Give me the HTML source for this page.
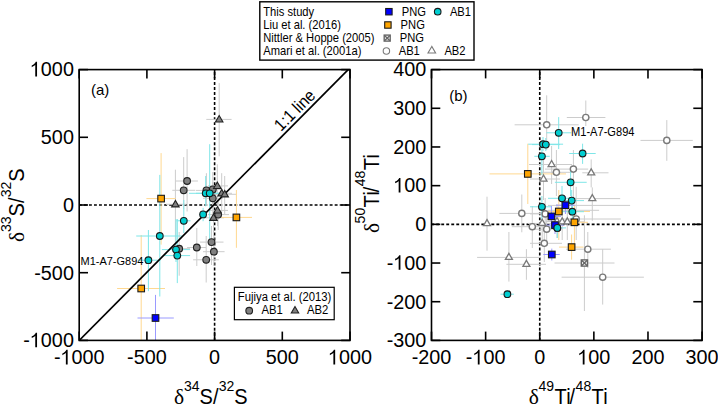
<!DOCTYPE html><html><head><meta charset="utf-8"><style>html,body{margin:0;padding:0;background:#fff;overflow:hidden;width:718px;height:404px;}svg{display:block;}</style></head><body><svg width="718" height="404" viewBox="0 0 718 404" font-family='"Liberation Sans", sans-serif'><rect width="718" height="404" fill="#fff"/><defs><clipPath id="ca"><rect x="79.2" y="69.6" width="270.8" height="270.79999999999995"/></clipPath><clipPath id="cb"><rect x="431.5" y="69.6" width="270.6" height="270.79999999999995"/></clipPath></defs><g clip-path="url(#ca)"><line x1="214.60" y1="69.6" x2="214.60" y2="340.4" stroke="#000" stroke-width="1.6" stroke-dasharray="2.9,2.115" stroke-dashoffset="2.6"/><line x1="79.2" y1="205.00" x2="350.0" y2="205.00" stroke="#000" stroke-width="1.6" stroke-dasharray="2.9,2.115" stroke-dashoffset="0.28"/><line x1="206.3" y1="119.4" x2="231.6" y2="119.4" stroke="#CCCCCC" stroke-width="1.0"/><line x1="219.2" y1="83.1" x2="219.2" y2="156.3" stroke="#CCCCCC" stroke-width="1.0"/><line x1="166.0" y1="204.3" x2="186.0" y2="204.3" stroke="#CCCCCC" stroke-width="1.0"/><line x1="175.4" y1="169.7" x2="175.4" y2="250.0" stroke="#CCCCCC" stroke-width="1.0"/><line x1="208.0" y1="185.9" x2="228.0" y2="185.9" stroke="#CCCCCC" stroke-width="1.0"/><line x1="217.3" y1="164.3" x2="217.3" y2="205.0" stroke="#CCCCCC" stroke-width="1.0"/><line x1="212.0" y1="193.3" x2="232.0" y2="193.3" stroke="#CCCCCC" stroke-width="1.0"/><line x1="221.7" y1="173.2" x2="221.7" y2="212.0" stroke="#CCCCCC" stroke-width="1.0"/><line x1="214.0" y1="194.3" x2="236.0" y2="194.3" stroke="#CCCCCC" stroke-width="1.0"/><line x1="224.7" y1="176.0" x2="224.7" y2="214.0" stroke="#CCCCCC" stroke-width="1.0"/><line x1="208.0" y1="210.4" x2="228.0" y2="210.4" stroke="#CCCCCC" stroke-width="1.0"/><line x1="217.5" y1="196.0" x2="217.5" y2="226.0" stroke="#CCCCCC" stroke-width="1.0"/><line x1="204.0" y1="217.8" x2="224.0" y2="217.8" stroke="#CCCCCC" stroke-width="1.0"/><line x1="213.5" y1="202.0" x2="213.5" y2="236.0" stroke="#CCCCCC" stroke-width="1.0"/><line x1="175.9" y1="181.0" x2="197.9" y2="181.0" stroke="#CCCCCC" stroke-width="1.0"/><line x1="187.1" y1="149.2" x2="187.1" y2="211.5" stroke="#CCCCCC" stroke-width="1.0"/><line x1="172.3" y1="190.3" x2="195.3" y2="190.3" stroke="#CCCCCC" stroke-width="1.0"/><line x1="183.7" y1="157.1" x2="183.7" y2="209.3" stroke="#CCCCCC" stroke-width="1.0"/><line x1="196.0" y1="190.4" x2="216.0" y2="190.4" stroke="#CCCCCC" stroke-width="1.0"/><line x1="206.4" y1="173.2" x2="206.4" y2="206.0" stroke="#CCCCCC" stroke-width="1.0"/><line x1="203.0" y1="189.4" x2="223.0" y2="189.4" stroke="#CCCCCC" stroke-width="1.0"/><line x1="212.8" y1="172.0" x2="212.8" y2="205.0" stroke="#CCCCCC" stroke-width="1.0"/><line x1="203.0" y1="198.3" x2="223.0" y2="198.3" stroke="#CCCCCC" stroke-width="1.0"/><line x1="212.8" y1="182.0" x2="212.8" y2="214.0" stroke="#CCCCCC" stroke-width="1.0"/><line x1="208.0" y1="214.6" x2="229.0" y2="214.6" stroke="#CCCCCC" stroke-width="1.0"/><line x1="218.2" y1="198.0" x2="218.2" y2="230.0" stroke="#CCCCCC" stroke-width="1.0"/><line x1="170.0" y1="248.7" x2="190.0" y2="248.7" stroke="#CCCCCC" stroke-width="1.0"/><line x1="179.2" y1="232.0" x2="179.2" y2="275.7" stroke="#CCCCCC" stroke-width="1.0"/><line x1="200.0" y1="242.1" x2="223.5" y2="242.1" stroke="#CCCCCC" stroke-width="1.0"/><line x1="211.5" y1="226.0" x2="211.5" y2="265.0" stroke="#CCCCCC" stroke-width="1.0"/><line x1="187.1" y1="247.5" x2="206.0" y2="247.5" stroke="#CCCCCC" stroke-width="1.0"/><line x1="196.8" y1="228.0" x2="196.8" y2="266.0" stroke="#CCCCCC" stroke-width="1.0"/><line x1="203.0" y1="251.7" x2="224.6" y2="251.7" stroke="#CCCCCC" stroke-width="1.0"/><line x1="213.9" y1="236.0" x2="213.9" y2="266.0" stroke="#CCCCCC" stroke-width="1.0"/><line x1="193.1" y1="259.8" x2="218.9" y2="259.8" stroke="#CCCCCC" stroke-width="1.0"/><line x1="206.2" y1="236.0" x2="206.2" y2="282.5" stroke="#CCCCCC" stroke-width="1.0"/><line x1="146.4" y1="198.6" x2="175.7" y2="198.6" stroke="#FFD890" stroke-width="1.0"/><line x1="161.1" y1="153.1" x2="161.1" y2="244.6" stroke="#FFD890" stroke-width="1.0"/><line x1="221.2" y1="217.4" x2="252.0" y2="217.4" stroke="#FFD890" stroke-width="1.0"/><line x1="236.4" y1="190.0" x2="236.4" y2="247.8" stroke="#FFD890" stroke-width="1.0"/><line x1="117.1" y1="288.5" x2="165.0" y2="288.5" stroke="#FFD890" stroke-width="1.0"/><line x1="141.2" y1="235.0" x2="141.2" y2="340.0" stroke="#FFD890" stroke-width="1.0"/><line x1="189.0" y1="193.3" x2="222.0" y2="193.3" stroke="#7FE6E8" stroke-width="1.0"/><line x1="205.7" y1="176.0" x2="205.7" y2="206.3" stroke="#7FE6E8" stroke-width="1.0"/><line x1="196.0" y1="193.3" x2="227.0" y2="193.3" stroke="#7FE6E8" stroke-width="1.0"/><line x1="209.7" y1="144.2" x2="209.7" y2="241.0" stroke="#7FE6E8" stroke-width="1.0"/><line x1="199.4" y1="214.4" x2="206.8" y2="214.4" stroke="#7FE6E8" stroke-width="1.0"/><line x1="203.1" y1="207.8" x2="203.1" y2="221.2" stroke="#7FE6E8" stroke-width="1.0"/><line x1="176.4" y1="220.8" x2="190.5" y2="220.8" stroke="#7FE6E8" stroke-width="1.0"/><line x1="183.8" y1="200.0" x2="183.8" y2="233.0" stroke="#7FE6E8" stroke-width="1.0"/><line x1="136.2" y1="236.0" x2="182.0" y2="236.0" stroke="#7FE6E8" stroke-width="1.0"/><line x1="159.8" y1="174.9" x2="159.8" y2="296.5" stroke="#7FE6E8" stroke-width="1.0"/><line x1="161.9" y1="249.6" x2="190.1" y2="249.6" stroke="#7FE6E8" stroke-width="1.0"/><line x1="176.0" y1="219.0" x2="176.0" y2="262.0" stroke="#7FE6E8" stroke-width="1.0"/><line x1="164.1" y1="255.6" x2="190.1" y2="255.6" stroke="#7FE6E8" stroke-width="1.0"/><line x1="177.3" y1="219.0" x2="177.3" y2="283.1" stroke="#7FE6E8" stroke-width="1.0"/><line x1="138.0" y1="260.2" x2="160.4" y2="260.2" stroke="#7FE6E8" stroke-width="1.0"/><line x1="148.4" y1="230.0" x2="148.4" y2="291.2" stroke="#7FE6E8" stroke-width="1.0"/><line x1="137.5" y1="318.0" x2="173.8" y2="318.0" stroke="#9A9AFF" stroke-width="1.0"/><line x1="155.5" y1="294.9" x2="155.5" y2="340.0" stroke="#9A9AFF" stroke-width="1.0"/><line x1="79.2" y1="340.4" x2="348.2" y2="69.6" stroke="#000" stroke-width="1.7"/><circle cx="187.1" cy="181.0" r="3.35" fill="#808080" stroke="#222" stroke-width="1.1"/><circle cx="183.7" cy="190.3" r="3.35" fill="#808080" stroke="#222" stroke-width="1.1"/><circle cx="206.4" cy="190.4" r="3.35" fill="#808080" stroke="#222" stroke-width="1.1"/><circle cx="212.8" cy="189.4" r="3.35" fill="#808080" stroke="#222" stroke-width="1.1"/><circle cx="212.8" cy="198.3" r="3.35" fill="#808080" stroke="#222" stroke-width="1.1"/><circle cx="218.2" cy="214.6" r="3.35" fill="#808080" stroke="#222" stroke-width="1.1"/><circle cx="179.2" cy="248.7" r="3.35" fill="#808080" stroke="#222" stroke-width="1.1"/><circle cx="211.5" cy="242.1" r="3.35" fill="#808080" stroke="#222" stroke-width="1.1"/><circle cx="196.8" cy="247.5" r="3.35" fill="#808080" stroke="#222" stroke-width="1.1"/><circle cx="213.9" cy="251.7" r="3.35" fill="#808080" stroke="#222" stroke-width="1.1"/><circle cx="206.2" cy="259.8" r="3.35" fill="#808080" stroke="#222" stroke-width="1.1"/><polygon points="219.20,115.50 215.45,122.00 222.95,122.00" fill="#808080" stroke="#222" stroke-width="1.1"/><polygon points="175.40,200.40 171.65,206.90 179.15,206.90" fill="#808080" stroke="#222" stroke-width="1.1"/><polygon points="217.30,182.00 213.55,188.50 221.05,188.50" fill="#808080" stroke="#222" stroke-width="1.1"/><polygon points="221.70,189.40 217.95,195.90 225.45,195.90" fill="#808080" stroke="#222" stroke-width="1.1"/><polygon points="224.70,190.40 220.95,196.90 228.45,196.90" fill="#808080" stroke="#222" stroke-width="1.1"/><polygon points="217.50,206.50 213.75,213.00 221.25,213.00" fill="#808080" stroke="#222" stroke-width="1.1"/><polygon points="213.50,213.90 209.75,220.40 217.25,220.40" fill="#808080" stroke="#222" stroke-width="1.1"/><rect x="157.80" y="195.30" width="6.6" height="6.6" fill="#FFA500" stroke="#1a1a1a" stroke-width="1.1"/><rect x="233.10" y="214.10" width="6.6" height="6.6" fill="#FFA500" stroke="#1a1a1a" stroke-width="1.1"/><rect x="137.90" y="285.20" width="6.6" height="6.6" fill="#FFA500" stroke="#1a1a1a" stroke-width="1.1"/><circle cx="205.7" cy="193.3" r="3.35" fill="#00CED1" stroke="#1a1a1a" stroke-width="1.1"/><circle cx="209.7" cy="193.3" r="3.35" fill="#00CED1" stroke="#1a1a1a" stroke-width="1.1"/><circle cx="203.1" cy="214.4" r="3.35" fill="#00CED1" stroke="#1a1a1a" stroke-width="1.1"/><circle cx="183.8" cy="220.8" r="3.35" fill="#00CED1" stroke="#1a1a1a" stroke-width="1.1"/><circle cx="159.8" cy="236.0" r="3.35" fill="#00CED1" stroke="#1a1a1a" stroke-width="1.1"/><circle cx="176.0" cy="249.6" r="3.35" fill="#00CED1" stroke="#1a1a1a" stroke-width="1.1"/><circle cx="177.3" cy="255.6" r="3.35" fill="#00CED1" stroke="#1a1a1a" stroke-width="1.1"/><circle cx="148.4" cy="260.2" r="3.35" fill="#00CED1" stroke="#1a1a1a" stroke-width="1.1"/><rect x="152.20" y="314.70" width="6.6" height="6.6" fill="#0000FF" stroke="#1a1a1a" stroke-width="1.1"/></g><line x1="79.20" y1="340.4" x2="79.20" y2="331.59999999999997" stroke="#000" stroke-width="1.6"/><line x1="79.20" y1="69.6" x2="79.20" y2="78.39999999999999" stroke="#000" stroke-width="1.6"/><line x1="146.90" y1="340.4" x2="146.90" y2="331.59999999999997" stroke="#000" stroke-width="1.6"/><line x1="146.90" y1="69.6" x2="146.90" y2="78.39999999999999" stroke="#000" stroke-width="1.6"/><line x1="214.60" y1="340.4" x2="214.60" y2="331.59999999999997" stroke="#000" stroke-width="1.6"/><line x1="214.60" y1="69.6" x2="214.60" y2="78.39999999999999" stroke="#000" stroke-width="1.6"/><line x1="282.30" y1="340.4" x2="282.30" y2="331.59999999999997" stroke="#000" stroke-width="1.6"/><line x1="282.30" y1="69.6" x2="282.30" y2="78.39999999999999" stroke="#000" stroke-width="1.6"/><line x1="350.00" y1="340.4" x2="350.00" y2="331.59999999999997" stroke="#000" stroke-width="1.6"/><line x1="350.00" y1="69.6" x2="350.00" y2="78.39999999999999" stroke="#000" stroke-width="1.6"/><line x1="79.2" y1="69.60" x2="88.0" y2="69.60" stroke="#000" stroke-width="1.6"/><line x1="350.0" y1="69.60" x2="341.2" y2="69.60" stroke="#000" stroke-width="1.6"/><line x1="79.2" y1="137.30" x2="88.0" y2="137.30" stroke="#000" stroke-width="1.6"/><line x1="350.0" y1="137.30" x2="341.2" y2="137.30" stroke="#000" stroke-width="1.6"/><line x1="79.2" y1="205.00" x2="88.0" y2="205.00" stroke="#000" stroke-width="1.6"/><line x1="350.0" y1="205.00" x2="341.2" y2="205.00" stroke="#000" stroke-width="1.6"/><line x1="79.2" y1="272.70" x2="88.0" y2="272.70" stroke="#000" stroke-width="1.6"/><line x1="350.0" y1="272.70" x2="341.2" y2="272.70" stroke="#000" stroke-width="1.6"/><line x1="79.2" y1="340.40" x2="88.0" y2="340.40" stroke="#000" stroke-width="1.6"/><line x1="350.0" y1="340.40" x2="341.2" y2="340.40" stroke="#000" stroke-width="1.6"/><rect x="79.2" y="69.6" width="270.80" height="270.80" fill="none" stroke="#000" stroke-width="1.6"/><rect x="234.4" y="287.3" width="99.8" height="32.4" fill="#fff" stroke="#000" stroke-width="1.2"/><text transform="translate(237.80,301.40) scale(1.0,1.08)" font-size="11.3">Fujiya et al. (2013)</text><circle cx="249.2" cy="310.7" r="3.35" fill="#808080" stroke="#222" stroke-width="1.1"/><text transform="translate(261.50,314.20) scale(1.0,1.08)" font-size="11.3">AB1</text><polygon points="295.00,306.55 291.30,312.96 298.70,312.96" fill="#808080" stroke="#222" stroke-width="1.1"/><text transform="translate(307.00,314.20) scale(1.0,1.08)" font-size="11.3">AB2</text><text x="91.0" y="95.0" font-size="15">(a)</text><text transform="translate(80.50,264.80) scale(1.0,1.05)" font-size="11.0">M1-A7-G894</text><text x="0" y="0" font-size="15.5" transform="translate(281.1,131.9) rotate(-45) scale(1,1.1)">1:1 line</text><text transform="translate(53.88,364.40) scale(1.0,1.05)" font-size="19.8">-</text><path d="M0.273 0L0.363 0L0.363 0.700L0.300 0.700C0.275 0.630 0.200 0.565 0.095 0.528L0.095 0.443C0.170 0.468 0.235 0.513 0.273 0.555Z" transform="translate(60.47,364.40) scale(19.8,-20.790)"/><text transform="translate(71.49,364.40) scale(1.0,1.05)" font-size="19.8">000</text><text transform="translate(127.09,364.40) scale(1.0,1.05)" font-size="19.8">-500</text><text transform="translate(209.09,364.40) scale(1.0,1.05)" font-size="19.8">0</text><text transform="translate(265.78,364.40) scale(1.0,1.05)" font-size="19.8">500</text><path d="M0.273 0L0.363 0L0.363 0.700L0.300 0.700C0.275 0.630 0.200 0.565 0.095 0.528L0.095 0.443C0.170 0.468 0.235 0.513 0.273 0.555Z" transform="translate(327.98,364.40) scale(19.8,-20.790)"/><text transform="translate(338.99,364.40) scale(1.0,1.05)" font-size="19.8">000</text><path d="M0.273 0L0.363 0L0.363 0.700L0.300 0.700C0.275 0.630 0.200 0.565 0.095 0.528L0.095 0.443C0.170 0.468 0.235 0.513 0.273 0.555Z" transform="translate(29.85,76.40) scale(19.8,-20.790)"/><text transform="translate(40.86,76.40) scale(1.0,1.05)" font-size="19.8">000</text><text transform="translate(40.86,144.10) scale(1.0,1.05)" font-size="19.8">500</text><text transform="translate(62.89,211.80) scale(1.0,1.05)" font-size="19.8">0</text><text transform="translate(34.27,279.50) scale(1.0,1.05)" font-size="19.8">-500</text><text transform="translate(23.26,347.20) scale(1.0,1.05)" font-size="19.8">-</text><path d="M0.273 0L0.363 0L0.363 0.700L0.300 0.700C0.275 0.630 0.200 0.565 0.095 0.528L0.095 0.443C0.170 0.468 0.235 0.513 0.273 0.555Z" transform="translate(29.85,347.20) scale(19.8,-20.790)"/><text transform="translate(40.86,347.20) scale(1.0,1.05)" font-size="19.8">000</text><g transform="translate(174.80,404.10)"><text transform="translate(-0.80,0.00)" font-size="21.5" font-family='"Liberation Serif", serif'>δ</text><text transform="translate(9.20,-13.50)" font-size="14">34</text><text transform="translate(24.70,0.00) scale(1.0,1.07)" font-size="20">S</text><text transform="translate(38.20,0.00) scale(1.0,1.07)" font-size="20">/</text><text transform="translate(43.90,-13.50)" font-size="14">32</text><text transform="translate(59.50,0.00) scale(1.0,1.07)" font-size="20">S</text></g><g transform="translate(24.20,241.20) rotate(-90)"><text transform="translate(-0.80,0.00)" font-size="21.5" font-family='"Liberation Serif", serif'>δ</text><text transform="translate(9.20,-13.50)" font-size="14">33</text><text transform="translate(24.70,0.00) scale(1.0,1.07)" font-size="20">S</text><text transform="translate(38.20,0.00) scale(1.0,1.07)" font-size="20">/</text><text transform="translate(43.90,-13.50)" font-size="14">32</text><text transform="translate(59.50,0.00) scale(1.0,1.07)" font-size="20">S</text></g><g clip-path="url(#cb)"><line x1="539.74" y1="69.6" x2="539.74" y2="340.4" stroke="#000" stroke-width="1.6" stroke-dasharray="2.9,2.115" stroke-dashoffset="2.6"/><line x1="431.5" y1="224.34" x2="702.1" y2="224.34" stroke="#000" stroke-width="1.6" stroke-dasharray="2.9,2.115" stroke-dashoffset="0.28"/><line x1="514.6" y1="124.8" x2="578.7" y2="124.8" stroke="#CCCCCC" stroke-width="1.0"/><line x1="546.7" y1="95.3" x2="546.7" y2="150.0" stroke="#CCCCCC" stroke-width="1.0"/><line x1="566.8" y1="117.5" x2="605.4" y2="117.5" stroke="#CCCCCC" stroke-width="1.0"/><line x1="585.8" y1="100.5" x2="585.8" y2="126.0" stroke="#CCCCCC" stroke-width="1.0"/><line x1="640.5" y1="140.4" x2="692.8" y2="140.4" stroke="#CCCCCC" stroke-width="1.0"/><line x1="666.8" y1="120.1" x2="666.8" y2="160.8" stroke="#CCCCCC" stroke-width="1.0"/><line x1="545.0" y1="169.1" x2="588.2" y2="169.1" stroke="#CCCCCC" stroke-width="1.0"/><line x1="573.4" y1="150.0" x2="573.4" y2="200.0" stroke="#CCCCCC" stroke-width="1.0"/><line x1="540.0" y1="172.3" x2="572.0" y2="172.3" stroke="#CCCCCC" stroke-width="1.0"/><line x1="556.4" y1="150.0" x2="556.4" y2="196.0" stroke="#CCCCCC" stroke-width="1.0"/><line x1="499.4" y1="213.4" x2="545.0" y2="213.4" stroke="#CCCCCC" stroke-width="1.0"/><line x1="521.8" y1="194.5" x2="521.8" y2="232.3" stroke="#CCCCCC" stroke-width="1.0"/><line x1="530.0" y1="213.9" x2="562.0" y2="213.9" stroke="#CCCCCC" stroke-width="1.0"/><line x1="545.2" y1="198.0" x2="545.2" y2="230.0" stroke="#CCCCCC" stroke-width="1.0"/><line x1="562.0" y1="219.0" x2="620.8" y2="219.0" stroke="#CCCCCC" stroke-width="1.0"/><line x1="576.2" y1="186.8" x2="576.2" y2="240.0" stroke="#CCCCCC" stroke-width="1.0"/><line x1="511.8" y1="226.7" x2="552.0" y2="226.7" stroke="#CCCCCC" stroke-width="1.0"/><line x1="532.3" y1="206.0" x2="532.3" y2="248.0" stroke="#CCCCCC" stroke-width="1.0"/><line x1="530.0" y1="229.2" x2="562.0" y2="229.2" stroke="#CCCCCC" stroke-width="1.0"/><line x1="546.7" y1="214.0" x2="546.7" y2="246.0" stroke="#CCCCCC" stroke-width="1.0"/><line x1="530.0" y1="243.3" x2="562.0" y2="243.3" stroke="#CCCCCC" stroke-width="1.0"/><line x1="544.3" y1="226.0" x2="544.3" y2="262.0" stroke="#CCCCCC" stroke-width="1.0"/><line x1="566.0" y1="249.2" x2="610.9" y2="249.2" stroke="#CCCCCC" stroke-width="1.0"/><line x1="587.8" y1="232.0" x2="587.8" y2="268.0" stroke="#CCCCCC" stroke-width="1.0"/><line x1="561.6" y1="277.2" x2="643.9" y2="277.2" stroke="#CCCCCC" stroke-width="1.0"/><line x1="602.7" y1="249.2" x2="602.7" y2="304.6" stroke="#CCCCCC" stroke-width="1.0"/><line x1="529.0" y1="164.5" x2="572.0" y2="164.5" stroke="#CCCCCC" stroke-width="1.0"/><line x1="551.6" y1="146.0" x2="551.6" y2="184.0" stroke="#CCCCCC" stroke-width="1.0"/><line x1="530.0" y1="179.0" x2="560.0" y2="179.0" stroke="#CCCCCC" stroke-width="1.0"/><line x1="543.5" y1="160.0" x2="543.5" y2="200.0" stroke="#CCCCCC" stroke-width="1.0"/><line x1="582.3" y1="172.8" x2="608.5" y2="172.8" stroke="#CCCCCC" stroke-width="1.0"/><line x1="591.2" y1="159.4" x2="591.2" y2="187.4" stroke="#CCCCCC" stroke-width="1.0"/><line x1="574.0" y1="198.6" x2="620.2" y2="198.6" stroke="#CCCCCC" stroke-width="1.0"/><line x1="592.3" y1="187.4" x2="592.3" y2="220.8" stroke="#CCCCCC" stroke-width="1.0"/><line x1="487.0" y1="196.7" x2="487.0" y2="250.7" stroke="#CCCCCC" stroke-width="1.0"/><line x1="477.1" y1="257.4" x2="540.0" y2="257.4" stroke="#CCCCCC" stroke-width="1.0"/><line x1="508.9" y1="232.0" x2="508.9" y2="281.6" stroke="#CCCCCC" stroke-width="1.0"/><line x1="506.4" y1="264.3" x2="546.0" y2="264.3" stroke="#CCCCCC" stroke-width="1.0"/><line x1="526.4" y1="249.2" x2="526.4" y2="279.8" stroke="#CCCCCC" stroke-width="1.0"/><line x1="528.0" y1="223.4" x2="556.0" y2="223.4" stroke="#CCCCCC" stroke-width="1.0"/><line x1="542.2" y1="208.0" x2="542.2" y2="240.0" stroke="#CCCCCC" stroke-width="1.0"/><line x1="546.0" y1="221.5" x2="572.0" y2="221.5" stroke="#CCCCCC" stroke-width="1.0"/><line x1="557.0" y1="204.0" x2="557.0" y2="238.0" stroke="#CCCCCC" stroke-width="1.0"/><line x1="552.0" y1="221.8" x2="578.0" y2="221.8" stroke="#CCCCCC" stroke-width="1.0"/><line x1="562.2" y1="206.0" x2="562.2" y2="240.0" stroke="#CCCCCC" stroke-width="1.0"/><line x1="556.0" y1="221.8" x2="584.0" y2="221.8" stroke="#CCCCCC" stroke-width="1.0"/><line x1="567.3" y1="206.0" x2="567.3" y2="240.0" stroke="#CCCCCC" stroke-width="1.0"/><line x1="554.5" y1="263.0" x2="614.5" y2="263.0" stroke="#CCCCCC" stroke-width="1.0"/><line x1="584.4" y1="215.3" x2="584.4" y2="311.0" stroke="#CCCCCC" stroke-width="1.0"/><line x1="548.0" y1="205.4" x2="630.1" y2="205.4" stroke="#CCCCCC" stroke-width="1"/><line x1="548.0" y1="210.3" x2="599.1" y2="210.3" stroke="#CCCCCC" stroke-width="1"/><line x1="489.5" y1="173.9" x2="566.0" y2="173.9" stroke="#FFD890" stroke-width="1.0"/><line x1="527.8" y1="143.7" x2="527.8" y2="204.0" stroke="#FFD890" stroke-width="1.0"/><line x1="546.0" y1="211.5" x2="590.0" y2="211.5" stroke="#FFD890" stroke-width="1.0"/><line x1="558.8" y1="190.0" x2="558.8" y2="240.0" stroke="#FFD890" stroke-width="1.0"/><line x1="560.0" y1="222.3" x2="588.0" y2="222.3" stroke="#FFD890" stroke-width="1.0"/><line x1="574.4" y1="205.0" x2="574.4" y2="248.0" stroke="#FFD890" stroke-width="1.0"/><line x1="559.0" y1="247.1" x2="583.5" y2="247.1" stroke="#FFD890" stroke-width="1.0"/><line x1="571.6" y1="234.5" x2="571.6" y2="259.7" stroke="#FFD890" stroke-width="1.0"/><line x1="546.4" y1="132.8" x2="571.3" y2="132.8" stroke="#7FE6E8" stroke-width="1.0"/><line x1="558.7" y1="117.1" x2="558.7" y2="149.0" stroke="#7FE6E8" stroke-width="1.0"/><line x1="528.2" y1="144.2" x2="563.1" y2="144.2" stroke="#7FE6E8" stroke-width="1.0"/><line x1="543.0" y1="137.0" x2="543.0" y2="151.0" stroke="#7FE6E8" stroke-width="1.0"/><line x1="532.0" y1="144.6" x2="560.0" y2="144.6" stroke="#7FE6E8" stroke-width="1.0"/><line x1="545.8" y1="138.0" x2="545.8" y2="151.0" stroke="#7FE6E8" stroke-width="1.0"/><line x1="534.3" y1="156.3" x2="549.7" y2="156.3" stroke="#7FE6E8" stroke-width="1.0"/><line x1="541.9" y1="146.0" x2="541.9" y2="175.0" stroke="#7FE6E8" stroke-width="1.0"/><line x1="569.2" y1="153.5" x2="595.7" y2="153.5" stroke="#7FE6E8" stroke-width="1.0"/><line x1="582.6" y1="143.7" x2="582.6" y2="163.9" stroke="#7FE6E8" stroke-width="1.0"/><line x1="554.9" y1="182.3" x2="586.7" y2="182.3" stroke="#7FE6E8" stroke-width="1.0"/><line x1="570.6" y1="170.0" x2="570.6" y2="196.0" stroke="#7FE6E8" stroke-width="1.0"/><line x1="548.0" y1="198.3" x2="576.0" y2="198.3" stroke="#7FE6E8" stroke-width="1.0"/><line x1="562.0" y1="186.0" x2="562.0" y2="212.0" stroke="#7FE6E8" stroke-width="1.0"/><line x1="560.0" y1="200.6" x2="584.0" y2="200.6" stroke="#7FE6E8" stroke-width="1.0"/><line x1="571.7" y1="190.0" x2="571.7" y2="212.0" stroke="#7FE6E8" stroke-width="1.0"/><line x1="530.0" y1="206.8" x2="552.0" y2="206.8" stroke="#7FE6E8" stroke-width="1.0"/><line x1="541.9" y1="196.0" x2="541.9" y2="220.0" stroke="#7FE6E8" stroke-width="1.0"/><line x1="562.0" y1="211.7" x2="584.0" y2="211.7" stroke="#7FE6E8" stroke-width="1.0"/><line x1="572.3" y1="200.0" x2="572.3" y2="224.0" stroke="#7FE6E8" stroke-width="1.0"/><line x1="548.0" y1="227.9" x2="566.0" y2="227.9" stroke="#7FE6E8" stroke-width="1.0"/><line x1="557.3" y1="218.0" x2="557.3" y2="238.0" stroke="#7FE6E8" stroke-width="1.0"/><line x1="500.5" y1="294.2" x2="513.8" y2="294.2" stroke="#7FE6E8" stroke-width="1.0"/><line x1="556.0" y1="205.2" x2="575.0" y2="205.2" stroke="#9A9AFF" stroke-width="1.0"/><line x1="565.4" y1="196.0" x2="565.4" y2="214.0" stroke="#9A9AFF" stroke-width="1.0"/><line x1="542.0" y1="216.4" x2="561.0" y2="216.4" stroke="#9A9AFF" stroke-width="1.0"/><line x1="551.4" y1="206.0" x2="551.4" y2="226.0" stroke="#9A9AFF" stroke-width="1.0"/><line x1="546.0" y1="225.1" x2="564.0" y2="225.1" stroke="#9A9AFF" stroke-width="1.0"/><line x1="555.0" y1="216.0" x2="555.0" y2="234.0" stroke="#9A9AFF" stroke-width="1.0"/><line x1="543.4" y1="254.5" x2="559.7" y2="254.5" stroke="#9A9AFF" stroke-width="1.0"/><line x1="551.8" y1="248.6" x2="551.8" y2="260.5" stroke="#9A9AFF" stroke-width="1.0"/><circle cx="546.7" cy="124.8" r="3.1" fill="#fff" stroke="#7A7A7A" stroke-width="1.4"/><circle cx="585.8" cy="117.5" r="3.1" fill="#fff" stroke="#7A7A7A" stroke-width="1.4"/><circle cx="666.8" cy="140.4" r="3.1" fill="#fff" stroke="#7A7A7A" stroke-width="1.4"/><circle cx="573.4" cy="169.1" r="3.1" fill="#fff" stroke="#7A7A7A" stroke-width="1.4"/><circle cx="556.4" cy="172.3" r="3.1" fill="#fff" stroke="#7A7A7A" stroke-width="1.4"/><circle cx="521.8" cy="213.4" r="3.1" fill="#fff" stroke="#7A7A7A" stroke-width="1.4"/><circle cx="545.2" cy="213.9" r="3.1" fill="#fff" stroke="#7A7A7A" stroke-width="1.4"/><circle cx="576.2" cy="219.0" r="3.1" fill="#fff" stroke="#7A7A7A" stroke-width="1.4"/><circle cx="532.3" cy="226.7" r="3.1" fill="#fff" stroke="#7A7A7A" stroke-width="1.4"/><circle cx="546.7" cy="229.2" r="3.1" fill="#fff" stroke="#7A7A7A" stroke-width="1.4"/><circle cx="544.3" cy="243.3" r="3.1" fill="#fff" stroke="#7A7A7A" stroke-width="1.4"/><circle cx="587.8" cy="249.2" r="3.1" fill="#fff" stroke="#7A7A7A" stroke-width="1.4"/><circle cx="602.7" cy="277.2" r="3.1" fill="#fff" stroke="#7A7A7A" stroke-width="1.4"/><polygon points="551.60,160.50 548.10,166.56 555.10,166.56" fill="#fff" stroke="#7A7A7A" stroke-width="1.3"/><polygon points="543.50,175.00 540.00,181.06 547.00,181.06" fill="#fff" stroke="#7A7A7A" stroke-width="1.3"/><polygon points="591.20,168.80 587.70,174.86 594.70,174.86" fill="#fff" stroke="#7A7A7A" stroke-width="1.3"/><polygon points="592.30,194.60 588.80,200.66 595.80,200.66" fill="#fff" stroke="#7A7A7A" stroke-width="1.3"/><polygon points="487.00,219.60 483.50,225.66 490.50,225.66" fill="#fff" stroke="#7A7A7A" stroke-width="1.3"/><polygon points="508.90,253.40 505.40,259.46 512.40,259.46" fill="#fff" stroke="#7A7A7A" stroke-width="1.3"/><polygon points="526.40,260.30 522.90,266.36 529.90,266.36" fill="#fff" stroke="#7A7A7A" stroke-width="1.3"/><polygon points="542.20,219.40 538.70,225.46 545.70,225.46" fill="#fff" stroke="#7A7A7A" stroke-width="1.3"/><polygon points="557.00,217.50 553.50,223.56 560.50,223.56" fill="#fff" stroke="#7A7A7A" stroke-width="1.3"/><polygon points="562.20,217.80 558.70,223.86 565.70,223.86" fill="#fff" stroke="#7A7A7A" stroke-width="1.3"/><polygon points="567.30,217.80 563.80,223.86 570.80,223.86" fill="#fff" stroke="#7A7A7A" stroke-width="1.3"/><rect x="581.30" y="259.90" width="6.2" height="6.2" fill="#fff" stroke="#666" stroke-width="1.4"/><path d="M581.60,260.20L587.20,265.80M587.20,260.20L581.60,265.80" stroke="#666" stroke-width="1.4"/><rect x="524.50" y="170.60" width="6.6" height="6.6" fill="#FFA500" stroke="#1a1a1a" stroke-width="1.1"/><rect x="555.50" y="208.20" width="6.6" height="6.6" fill="#FFA500" stroke="#1a1a1a" stroke-width="1.1"/><rect x="571.10" y="219.00" width="6.6" height="6.6" fill="#FFA500" stroke="#1a1a1a" stroke-width="1.1"/><rect x="568.30" y="243.80" width="6.6" height="6.6" fill="#FFA500" stroke="#1a1a1a" stroke-width="1.1"/><circle cx="558.7" cy="132.8" r="3.35" fill="#00CED1" stroke="#1a1a1a" stroke-width="1.1"/><circle cx="543.0" cy="144.2" r="3.35" fill="#00CED1" stroke="#1a1a1a" stroke-width="1.1"/><circle cx="545.8" cy="144.6" r="3.35" fill="#00CED1" stroke="#1a1a1a" stroke-width="1.1"/><circle cx="541.9" cy="156.3" r="3.35" fill="#00CED1" stroke="#1a1a1a" stroke-width="1.1"/><circle cx="582.6" cy="153.5" r="3.35" fill="#00CED1" stroke="#1a1a1a" stroke-width="1.1"/><circle cx="570.6" cy="182.3" r="3.35" fill="#00CED1" stroke="#1a1a1a" stroke-width="1.1"/><circle cx="562.0" cy="198.3" r="3.35" fill="#00CED1" stroke="#1a1a1a" stroke-width="1.1"/><circle cx="571.7" cy="200.6" r="3.35" fill="#00CED1" stroke="#1a1a1a" stroke-width="1.1"/><circle cx="541.9" cy="206.8" r="3.35" fill="#00CED1" stroke="#1a1a1a" stroke-width="1.1"/><circle cx="572.3" cy="211.7" r="3.35" fill="#00CED1" stroke="#1a1a1a" stroke-width="1.1"/><circle cx="557.3" cy="227.9" r="3.35" fill="#00CED1" stroke="#1a1a1a" stroke-width="1.1"/><circle cx="507.4" cy="294.2" r="3.35" fill="#00CED1" stroke="#1a1a1a" stroke-width="1.1"/><rect x="562.10" y="201.90" width="6.6" height="6.6" fill="#0000FF" stroke="#1a1a1a" stroke-width="1.1"/><rect x="548.10" y="213.10" width="6.6" height="6.6" fill="#0000FF" stroke="#1a1a1a" stroke-width="1.1"/><rect x="551.70" y="221.80" width="6.6" height="6.6" fill="#0000FF" stroke="#1a1a1a" stroke-width="1.1"/><rect x="548.50" y="251.20" width="6.6" height="6.6" fill="#0000FF" stroke="#1a1a1a" stroke-width="1.1"/><circle cx="557.3" cy="227.9" r="3.35" fill="#00CED1" stroke="#1a1a1a" stroke-width="1.1"/></g><line x1="431.50" y1="340.4" x2="431.50" y2="331.59999999999997" stroke="#000" stroke-width="1.6"/><line x1="431.50" y1="69.6" x2="431.50" y2="78.39999999999999" stroke="#000" stroke-width="1.6"/><line x1="485.62" y1="340.4" x2="485.62" y2="331.59999999999997" stroke="#000" stroke-width="1.6"/><line x1="485.62" y1="69.6" x2="485.62" y2="78.39999999999999" stroke="#000" stroke-width="1.6"/><line x1="539.74" y1="340.4" x2="539.74" y2="331.59999999999997" stroke="#000" stroke-width="1.6"/><line x1="539.74" y1="69.6" x2="539.74" y2="78.39999999999999" stroke="#000" stroke-width="1.6"/><line x1="593.86" y1="340.4" x2="593.86" y2="331.59999999999997" stroke="#000" stroke-width="1.6"/><line x1="593.86" y1="69.6" x2="593.86" y2="78.39999999999999" stroke="#000" stroke-width="1.6"/><line x1="647.98" y1="340.4" x2="647.98" y2="331.59999999999997" stroke="#000" stroke-width="1.6"/><line x1="647.98" y1="69.6" x2="647.98" y2="78.39999999999999" stroke="#000" stroke-width="1.6"/><line x1="702.10" y1="340.4" x2="702.10" y2="331.59999999999997" stroke="#000" stroke-width="1.6"/><line x1="702.10" y1="69.6" x2="702.10" y2="78.39999999999999" stroke="#000" stroke-width="1.6"/><line x1="431.5" y1="69.60" x2="440.3" y2="69.60" stroke="#000" stroke-width="1.6"/><line x1="702.1" y1="69.60" x2="693.3000000000001" y2="69.60" stroke="#000" stroke-width="1.6"/><line x1="431.5" y1="108.29" x2="440.3" y2="108.29" stroke="#000" stroke-width="1.6"/><line x1="702.1" y1="108.29" x2="693.3000000000001" y2="108.29" stroke="#000" stroke-width="1.6"/><line x1="431.5" y1="146.97" x2="440.3" y2="146.97" stroke="#000" stroke-width="1.6"/><line x1="702.1" y1="146.97" x2="693.3000000000001" y2="146.97" stroke="#000" stroke-width="1.6"/><line x1="431.5" y1="185.66" x2="440.3" y2="185.66" stroke="#000" stroke-width="1.6"/><line x1="702.1" y1="185.66" x2="693.3000000000001" y2="185.66" stroke="#000" stroke-width="1.6"/><line x1="431.5" y1="224.34" x2="440.3" y2="224.34" stroke="#000" stroke-width="1.6"/><line x1="702.1" y1="224.34" x2="693.3000000000001" y2="224.34" stroke="#000" stroke-width="1.6"/><line x1="431.5" y1="263.03" x2="440.3" y2="263.03" stroke="#000" stroke-width="1.6"/><line x1="702.1" y1="263.03" x2="693.3000000000001" y2="263.03" stroke="#000" stroke-width="1.6"/><line x1="431.5" y1="301.71" x2="440.3" y2="301.71" stroke="#000" stroke-width="1.6"/><line x1="702.1" y1="301.71" x2="693.3000000000001" y2="301.71" stroke="#000" stroke-width="1.6"/><line x1="431.5" y1="340.40" x2="440.3" y2="340.40" stroke="#000" stroke-width="1.6"/><line x1="702.1" y1="340.40" x2="693.3000000000001" y2="340.40" stroke="#000" stroke-width="1.6"/><rect x="431.5" y="69.6" width="270.60" height="270.80" fill="none" stroke="#000" stroke-width="1.6"/><text x="449.2" y="100.8" font-size="15">(b)</text><text transform="translate(571.00,136.10) scale(1.0,1.1)" font-size="11.1">M1-A7-G894</text><text transform="translate(411.69,364.40) scale(1.0,1.05)" font-size="19.8">-200</text><text transform="translate(465.81,364.40) scale(1.0,1.05)" font-size="19.8">-</text><path d="M0.273 0L0.363 0L0.363 0.700L0.300 0.700C0.275 0.630 0.200 0.565 0.095 0.528L0.095 0.443C0.170 0.468 0.235 0.513 0.273 0.555Z" transform="translate(472.40,364.40) scale(19.8,-20.790)"/><text transform="translate(483.41,364.40) scale(1.0,1.05)" font-size="19.8">00</text><text transform="translate(534.23,364.40) scale(1.0,1.05)" font-size="19.8">0</text><path d="M0.273 0L0.363 0L0.363 0.700L0.300 0.700C0.275 0.630 0.200 0.565 0.095 0.528L0.095 0.443C0.170 0.468 0.235 0.513 0.273 0.555Z" transform="translate(577.34,364.40) scale(19.8,-20.790)"/><text transform="translate(588.35,364.40) scale(1.0,1.05)" font-size="19.8">00</text><text transform="translate(631.46,364.40) scale(1.0,1.05)" font-size="19.8">200</text><text transform="translate(685.58,364.40) scale(1.0,1.05)" font-size="19.8">300</text><text transform="translate(393.26,76.40) scale(1.0,1.05)" font-size="19.8">400</text><text transform="translate(393.26,115.09) scale(1.0,1.05)" font-size="19.8">300</text><text transform="translate(393.26,153.77) scale(1.0,1.05)" font-size="19.8">200</text><path d="M0.273 0L0.363 0L0.363 0.700L0.300 0.700C0.275 0.630 0.200 0.565 0.095 0.528L0.095 0.443C0.170 0.468 0.235 0.513 0.273 0.555Z" transform="translate(393.26,192.46) scale(19.8,-20.790)"/><text transform="translate(404.28,192.46) scale(1.0,1.05)" font-size="19.8">00</text><text transform="translate(415.29,231.14) scale(1.0,1.05)" font-size="19.8">0</text><text transform="translate(386.67,269.83) scale(1.0,1.05)" font-size="19.8">-</text><path d="M0.273 0L0.363 0L0.363 0.700L0.300 0.700C0.275 0.630 0.200 0.565 0.095 0.528L0.095 0.443C0.170 0.468 0.235 0.513 0.273 0.555Z" transform="translate(393.26,269.83) scale(19.8,-20.790)"/><text transform="translate(404.28,269.83) scale(1.0,1.05)" font-size="19.8">00</text><text transform="translate(386.67,308.51) scale(1.0,1.05)" font-size="19.8">-200</text><text transform="translate(386.67,347.20) scale(1.0,1.05)" font-size="19.8">-300</text><g transform="translate(529.50,404.10)"><text transform="translate(-0.80,0.00)" font-size="21.5" font-family='"Liberation Serif", serif'>δ</text><text transform="translate(8.90,-13.50)" font-size="14">49</text><text transform="translate(24.90,0.00) scale(1.0,1.07)" font-size="20">T</text><text transform="translate(36.80,0.00) scale(1.0,1.07)" font-size="20">i</text><text transform="translate(40.00,0.00) scale(1.0,1.07)" font-size="20">/</text><text transform="translate(46.10,-13.50)" font-size="14">48</text><text transform="translate(62.10,0.00) scale(1.0,1.07)" font-size="20">T</text><text transform="translate(73.70,0.00) scale(1.0,1.07)" font-size="20">i</text></g><g transform="translate(378.50,232.30) rotate(-90)"><text transform="translate(-0.80,0.00)" font-size="21.5" font-family='"Liberation Serif", serif'>δ</text><text transform="translate(8.90,-13.50)" font-size="14">50</text><text transform="translate(24.90,0.00) scale(1.0,1.07)" font-size="20">T</text><text transform="translate(36.80,0.00) scale(1.0,1.07)" font-size="20">i</text><text transform="translate(40.00,0.00) scale(1.0,1.07)" font-size="20">/</text><text transform="translate(46.10,-13.50)" font-size="14">48</text><text transform="translate(62.10,0.00) scale(1.0,1.07)" font-size="20">T</text><text transform="translate(73.70,0.00) scale(1.0,1.07)" font-size="20">i</text></g><rect x="259.8" y="1.8" width="214.2" height="58.3" fill="#fff" stroke="#000" stroke-width="1.4"/><text transform="translate(263.20,15.90) scale(1.0,1.08)" font-size="11.2">This study</text><text transform="translate(263.20,28.90) scale(1.0,1.08)" font-size="11.2">Liu et al. (2016)</text><text transform="translate(263.20,41.80) scale(1.0,1.08)" font-size="11.2">Nittler &amp; Hoppe (2005)</text><text transform="translate(263.20,54.80) scale(1.0,1.08)" font-size="11.2">Amari et al. (2001a)</text><rect x="385.70" y="8.50" width="6.4" height="6.4" fill="#0000FF" stroke="#1a1a1a" stroke-width="1.1"/><text transform="translate(401.80,15.90) scale(1.0,1.08)" font-size="11.2">PNG</text><circle cx="437.7" cy="11.7" r="3.3" fill="#00CED1" stroke="#1a1a1a" stroke-width="1.1"/><text transform="translate(449.90,15.90) scale(1.0,1.08)" font-size="11.2">AB1</text><rect x="384.70" y="21.80" width="6.4" height="6.4" fill="#FFA500" stroke="#1a1a1a" stroke-width="1.1"/><text transform="translate(400.60,28.90) scale(1.0,1.08)" font-size="11.2">PNG</text><rect x="384.20" y="35.10" width="6.0" height="6.0" fill="#fff" stroke="#666" stroke-width="1.4"/><path d="M384.50,35.40L389.90,40.80M389.90,35.40L384.50,40.80" stroke="#666" stroke-width="1.4"/><text transform="translate(399.80,41.80) scale(1.0,1.08)" font-size="11.2">PNG</text><circle cx="386.4" cy="51.0" r="3.2" fill="#fff" stroke="#7A7A7A" stroke-width="1.1"/><text transform="translate(398.70,54.80) scale(1.0,1.08)" font-size="11.2">AB1</text><polygon points="431.80,46.45 428.00,53.03 435.60,53.03" fill="#fff" stroke="#7A7A7A" stroke-width="1.1"/><text transform="translate(444.40,54.80) scale(1.0,1.08)" font-size="11.2">AB2</text></svg></body></html>
